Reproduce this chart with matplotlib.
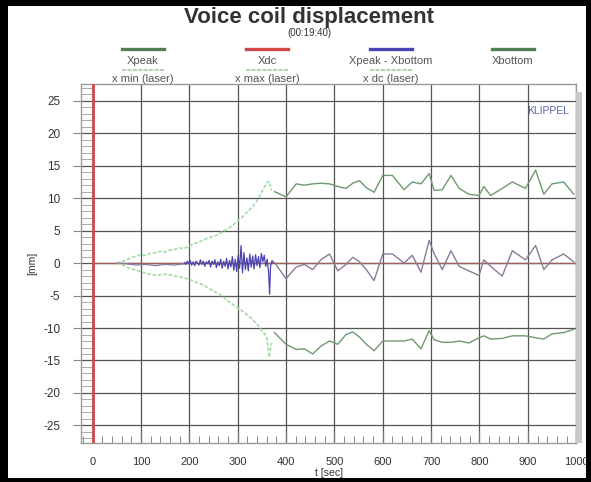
import matplotlib
matplotlib.use("Agg")
import matplotlib.pyplot as plt
from matplotlib.lines import Line2D
from matplotlib.patches import Rectangle
from matplotlib.ticker import MultipleLocator

plt.rcParams['font.family'] = ['Liberation Sans', 'DejaVu Sans']
plt.rcParams['axes.unicode_minus'] = False

# laser envelope (x max / x min), light green, 50..370 s
t_laser = [50, 60, 70, 80, 90, 100, 110, 120, 130, 140, 150, 160, 170, 180, 190,
           200, 210, 220, 230, 240, 250, 260, 270, 280, 290, 300, 310, 320, 330,
           340, 350, 360, 365, 370]
x_max_laser = [0.0, 0.2, 0.5, 0.8, 1.1, 1.3, 1.2, 1.5, 1.6, 1.8, 1.7, 2.0, 2.1, 2.3, 2.3,
               2.6, 3.0, 3.2, 3.6, 3.9, 4.1, 4.4, 4.9, 5.3, 5.8, 6.5, 7.1, 7.9, 8.6,
               9.6, 11.0, 12.3, 12.6, 11.2]
x_min_laser = [0.0, -0.2, -0.6, -0.9, -1.1, -1.3, -1.6, -1.7, -1.9, -1.8, -1.7, -1.8, -2.0, -2.1, -2.3,
               -2.5, -2.8, -3.1, -3.4, -3.9, -4.3, -4.7, -5.2, -5.8, -6.4, -6.9, -7.4, -8.0, -8.6,
               -9.4, -10.4, -11.3, -14.5, -12.3]

# x dc (laser) before the blue part
t_dc_laser = [50, 70, 90, 110, 130, 150, 170, 190]
x_dc_laser = [0.0, -0.1, -0.3, -0.2, -0.4, -0.2, -0.3, -0.1]

# Xpeak - Xbottom during ramp (blue)
t_blue = [190, 193, 196, 199, 202, 205, 208, 211, 214, 217, 220, 223, 226, 229, 232,
          235, 238, 241, 244, 247, 250, 253, 256, 259, 262, 265, 268, 271, 274, 277,
          280, 283, 286, 289, 292, 295, 298, 301, 304, 307, 310, 313, 316, 319, 322,
          325, 328, 331, 334, 337, 340, 343, 346, 349, 352, 355, 358, 361, 364, 366,
          368, 371, 374]
x_blue = [0.1, -0.2, 0.3, -0.1, 0.4, -0.3, 0.2, -0.4, 0.3, 0.0, -0.3, 0.5, -0.2, 0.3, -0.5,
          0.2, -0.1, 0.4, -0.6, 0.3, -0.2, 0.5, -0.7, 0.2, -0.4, 0.6, -0.8, 0.3, -0.5, 0.7,
          -0.9, 0.4, -0.6, 1.0, -1.1, 0.6, -1.3, 1.2, -0.8, 2.7, -1.5, 1.6, -1.0, 0.8, -1.2,
          1.4, -0.6, 1.1, -0.9, 1.3, -0.4, 1.0, -0.7, 1.5, 0.2, 1.2, -0.5, 0.6, -1.5, -4.8,
          -0.5, 0.4, 0.0]

# sparse measurement after 370 s
t_meas = [376, 400, 421, 438, 455, 472, 490, 507, 524, 538, 552, 566, 582, 600, 620,
          644, 661, 679, 696, 706, 723, 741, 758, 778, 799, 809, 823, 847, 868, 895,
          916, 933, 950, 974, 995]
xpeak = [11.0, 10.2, 12.2, 12.0, 12.2, 12.3, 12.2, 11.8, 11.5, 12.3, 12.7, 11.6, 10.9, 13.5, 13.5,
         11.3, 12.5, 12.2, 13.8, 11.2, 11.3, 13.5, 11.5, 10.6, 10.4, 11.8, 10.4, 11.5, 12.5, 11.5,
         14.3, 10.6, 12.2, 12.5, 10.6]
xbottom = [-10.7, -12.5, -13.3, -13.2, -14.0, -12.8, -12.0, -12.5, -11.0, -10.6, -11.4, -12.5, -13.5, -12.0, -12.0,
           -12.0, -11.7, -13.2, -10.4, -11.8, -12.2, -12.2, -12.0, -12.3, -11.5, -11.2, -11.7, -11.6, -11.2, -11.2,
           -11.5, -11.7, -10.9, -10.7, -10.2]
xcenter = [0.1, -2.4, -0.6, -0.2, -1.0, 0.5, 1.4, -1.2, -0.2, 0.9, 0.2, -1.0, -2.7, 1.4, 1.4,
           0.0, 1.2, -1.4, 3.5, 1.5, -1.0, 1.9, -0.5, -1.2, -1.9, 0.5, -0.5, -2.0, 1.9, 0.5,
           2.7, -1.0, 0.5, 1.4, 0.2]

t_xdc = [0, 1000]
xdc = [0.0, 0.0]

c_green = '#6f9a6f'
c_legend_green = '#4f7f55'
c_light = '#a8dca8'
c_blue = '#4a44b0'
c_red = '#d04848'
c_mid = '#8a7c98'

fig = plt.figure(figsize=(5.91, 4.82), dpi=100)
ax = fig.add_axes([0.137, 0.081, 0.838, 0.745])

ax.plot(t_xdc, xdc, color='#a06060', lw=1.0, zorder=3)
ax.axvline(0, color=c_red, lw=2.0, zorder=4)
ax.plot(t_laser, x_max_laser, color=c_light, lw=1.3, ls=(0, (2, 1)), zorder=3)
ax.plot(t_laser, x_min_laser, color=c_light, lw=1.3, ls=(0, (2, 1)), zorder=3)
ax.plot(t_dc_laser, x_dc_laser, color=c_mid, lw=0.9, zorder=3)
ax.plot(t_blue, x_blue, color=c_blue, lw=0.9, zorder=4)
ax.plot(t_meas, xpeak, color=c_green, lw=1.0, zorder=3)
ax.plot(t_meas, xbottom, color=c_green, lw=1.0, zorder=3)
ax.plot(t_meas, xcenter, color=c_mid, lw=1.0, zorder=3)

ax.set_xlim(-24, 1000)
ax.set_ylim(-27.7, 27.6)
ax.xaxis.set_major_locator(MultipleLocator(100))
ax.xaxis.set_minor_locator(MultipleLocator(20))
ax.yaxis.set_major_locator(MultipleLocator(5))
ax.yaxis.set_minor_locator(MultipleLocator(1))
ax.grid(True, which='major', color='#555555', lw=0.9)
ax.tick_params(axis='y', which='major', direction='out', length=6, width=0.8,
               color='#888888', labelsize=8.5, labelcolor='#333333', pad=9)
ax.tick_params(axis='y', which='minor', direction='in', length=9, width=0.7, color='#aaaaaa')
ax.tick_params(axis='x', which='major', direction='in', length=9, width=0.8,
               color='#777777', labelsize=8, labelcolor='#333333', pad=10)
ax.tick_params(axis='x', which='minor', direction='in', length=5, width=0.7, color='#888888')
for s in ax.spines.values():
    s.set_color('#999999')
    s.set_linewidth(1.0)

ax.set_xlabel('t [sec]', fontsize=7.5, color='#333333', labelpad=1)
ax.set_ylabel('[mm]', fontsize=7.5, color='#333333', labelpad=4)
ax.text(0.985, 0.925, 'KLIPPEL', transform=ax.transAxes, ha='right', va='center',
        fontsize=7.5, color='#5866a8')

W, H = 591.0, 482.0

# title
fig.text(309 / W, 1 - 18 / H, 'Voice coil displacement', ha='center', va='center',
         fontsize=16, fontweight='bold', color='#333333')
fig.text(309 / W, 1 - 33 / H, '(00:19:40)', ha='center', va='center', fontsize=7, color='#333333')

# legend drawn by hand
leg_row1 = [('Xpeak', c_legend_green, 143), ('Xdc', c_red, 267),
            ('Xpeak - Xbottom', c_blue, 391), ('Xbottom', c_legend_green, 513)]
leg_row2 = [('x min (laser)', 143), ('x max (laser)', 267), ('x dc (laser)', 391)]
for name, col, cx in leg_row1:
    fig.add_artist(Line2D([(cx - 21) / W, (cx + 21) / W], [1 - 49 / H] * 2, color=col, lw=2.4))
    fig.text(cx / W, 1 - 61 / H, name, ha='center', va='center', fontsize=8, color='#555555')
for name, cx in leg_row2:
    fig.add_artist(Line2D([(cx - 21) / W, (cx + 21) / W], [1 - 70 / H] * 2, color='#b4d4b4',
                          lw=1.5, ls=(0, (2, 0.6))))
    fig.text(cx / W, 1 - 79.5 / H, name, ha='center', va='center', fontsize=8, color='#555555')

# shadow at right of plot area and black frame
fig.add_artist(Rectangle((576 / W, 1 - 443 / H), 6 / W, (443 - 92) / H,
                         transform=fig.transFigure, color='#c8c8c8', lw=0))
fig.add_artist(Rectangle((0, 0), 8 / W, 1, transform=fig.transFigure, color='black', lw=0))
fig.add_artist(Rectangle((0, 0), 1, 4 / H, transform=fig.transFigure, color='black', lw=0))
fig.add_artist(Rectangle((0, 1 - 6 / H), 1, 6 / H, transform=fig.transFigure, color='black', lw=0))
fig.add_artist(Rectangle((1 - 5 / W, 0), 5 / W, 1, transform=fig.transFigure, color='black', lw=0))

fig.savefig('out.png', dpi=100)
